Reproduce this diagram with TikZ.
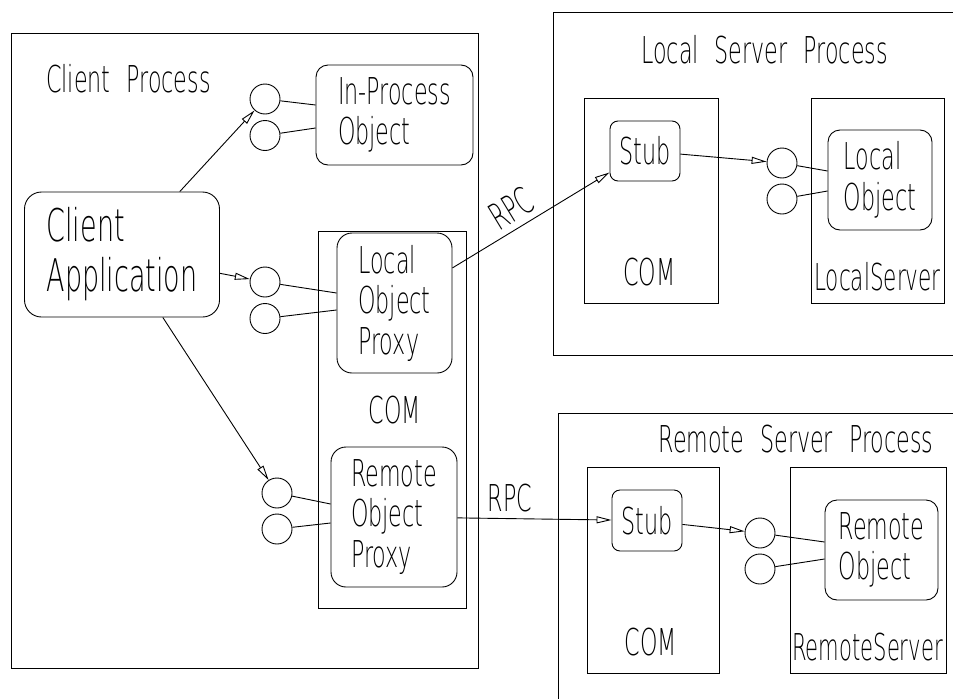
\documentclass[tikz,border=0pt]{standalone}
\usepackage{fontspec}
\usetikzlibrary{arrows.meta,calc}
% thin, narrow lettering in the style of a CAD plot font
\IfFontExistsTF{DejaVuSans-ExtraLight.ttf}
  {\setmainfont{DejaVuSans-ExtraLight.ttf}[FakeStretch=0.6]}
  {\setmainfont{DejaVu Sans}[FakeStretch=0.6]}
% label size with the wide word gaps of a plotter font
\newcommand\cadlabel{\fontsize{37}{40.5}\selectfont\spaceskip 16pt\relax}
\newcommand\cadtitle{\fontsize{45}{50}\selectfont}
\begin{document}
\begin{tikzpicture}[x=1pt,y=-1pt,line width=0.9pt,
  txt/.style={font=\cadlabel,inner sep=0pt},
  bigtxt/.style={font=\cadtitle,inner sep=0pt},
  obj/.style={draw,rounded corners=12pt,align=left,txt},
  box/.style={draw,rectangle,inner sep=0pt},
  iface/.style={draw,circle,minimum size=30pt,inner sep=0pt},
  arr/.style={-{Triangle[open,length=15pt,width=7pt]}},
]
\useasboundingbox (0,0) rectangle (953,699);

% ---------------- client process ----------------
\draw (11,33) rectangle (478,668);
\node[txt,anchor=base] (cpt) at (128.5,92) {Client Process};

\node[obj,bigtxt,rounded corners=17pt,minimum width=195pt,minimum height=125pt]
  (app) at (122,254.5) {Client\\Application};

\node[obj,minimum width=157pt,minimum height=100pt] (ipo) at (394.5,115) {In-Process\\Object};
\node[iface] (ip1) at (265,99) {};
\node[iface] (ip2) at (265,135.5) {};

\node[box,minimum width=148pt,minimum height=377pt] (ccom) at (392,419.5) {};
\node[txt,anchor=base] (ccomt) at (395,423) {COM};

\node[obj,rounded corners=15pt,minimum width=115pt,minimum height=140pt] (lop) at (394.5,303) {Local\\Object\\Proxy};
\node[iface] (lp1) at (265,282) {};
\node[iface] (lp2) at (265,318.5) {};

\node[obj,rounded corners=15pt,minimum width=126pt,minimum height=140pt] (rop) at (394,517) {Remote\\Object\\Proxy};
\node[iface] (rp1) at (277,493) {};
\node[iface] (rp2) at (277,529) {};

% ---------------- local server process ----------------
\draw (953,12) -- (553,12) -- (553,355) -- (953,355);
\node[txt,anchor=base] (lspt) at (764.5,63) {Local Server Process};

\node[box,minimum width=134pt,minimum height=205pt] (lcom) at (651,200.5) {};
\node[txt,anchor=base] (lcomt) at (649.5,285) {COM};
\node[obj,rounded corners=8pt,minimum width=70pt,minimum height=60pt] (lstub) at (645,151) {Stub};

\node[box,minimum width=133pt,minimum height=205pt] (lsrv) at (877.5,200.5) {};
\node[txt,anchor=base] (lsrvt) at (877.5,290) {\scalebox{0.97}[1]{LocalServer}};
\node[obj,minimum width=104pt,minimum height=100pt] (lob) at (880,180) {Local\\Object};
\node[iface] (lo1) at (782,163) {};
\node[iface] (lo2) at (782,199) {};

% ---------------- remote server process ----------------
\draw (953,413) -- (558,413) -- (558,699);
\node[txt,anchor=base] (rspt) at (796,452) {Remote Server Process};

\node[box,minimum width=132pt,minimum height=206pt] (rcom) at (653,570) {};
\node[txt,anchor=base] (rcomt) at (651,655) {COM};
\node[obj,rounded corners=8pt,minimum width=70pt,minimum height=61pt] (rstub) at (647,520.5) {Stub};

\node[box,minimum width=156pt,minimum height=206pt] (rsrv) at (868,570) {};
\node[txt,anchor=base] (rsrvt) at (867.5,660) {\scalebox{0.95}[1]{RemoteServer}};
\node[obj,minimum width=113pt,minimum height=100pt] (rob) at (881.5,550) {Remote\\Object};
\node[iface] (ro1) at (760,533) {};
\node[iface] (ro2) at (760,569) {};

% ---------------- interface stubs ----------------
\draw (ip1) -- ($(ipo.west)+(0,-10)$);
\draw (ip2) -- ($(ipo.west)+(0,13)$);
\draw (lp1) -- ($(lop.west)+(0,-10)$);
\draw (lp2) -- ($(lop.west)+(0,7)$);
\draw (rp1) -- ($(rop.west)+(0,-13)$);
\draw (rp2) -- ($(rop.west)+(0,6)$);
\draw (lo1) -- ($(lob.west)+(0,-9)$);
\draw (lo2) -- ($(lob.west)+(0,11)$);
\draw (ro1) -- ($(rob.west)+(0,-8)$);
\draw (ro2) -- ($(rob.west)+(0,9)$);

% ---------------- calls ----------------
\draw[arr] (app) -- (ip1);
\draw[arr] (app) -- (lp1);
\draw[arr] (app) -- (rp1);
\draw[arr] (lop) -- node[txt,pos=0.44,sloped,above=6pt] (rpc1) {RPC} (lstub);
\draw[arr] (rop) -- node[txt,pos=0.34,above=6pt] (rpc2) {RPC} (rstub);
\draw[arr] (lstub) -- (lo1);
\draw[arr] (rstub) -- (ro1);
\end{tikzpicture}
\end{document}
